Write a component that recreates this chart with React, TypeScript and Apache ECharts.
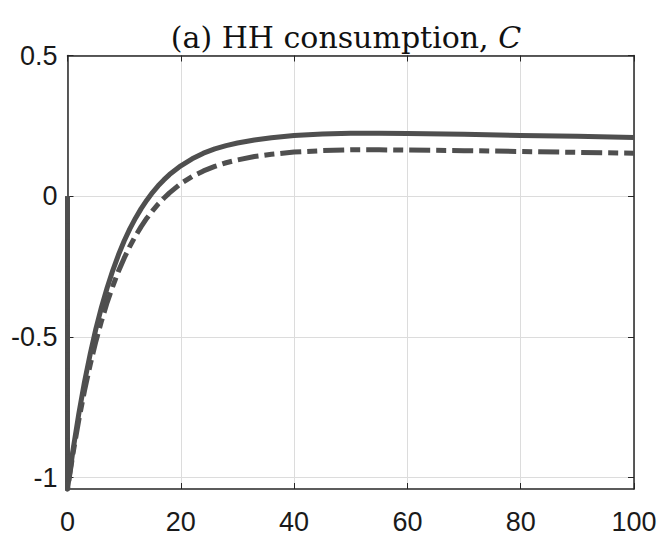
import React, { useEffect, useRef } from "react";
import * as echarts from "echarts";

// Horizon (periods); the first 0 is the pre-shock steady state
const periods = [0, 0, 1, 2, 3, 4, 5, 6, 7, 8, 9, 10, 11, 12, 13, 14, 15, 16, 17, 18, 20, 22, 24, 26, 28, 30, 33, 36, 40, 45, 50, 55, 60, 70, 80, 90, 100];

// Solid line
const solidSeries = [0, -1.04, -0.898, -0.772, -0.66, -0.561, -0.472, -0.394, -0.325, -0.263, -0.208, -0.159, -0.116, -0.078, -0.044, -0.014, 0.013, 0.037, 0.058, 0.077, 0.108, 0.133, 0.153, 0.168, 0.18, 0.189, 0.2, 0.208, 0.216, 0.221, 0.224, 0.224, 0.223, 0.22, 0.216, 0.213, 0.209];

// Dash-dot line
const dashSeries = [0, -1.04, -0.91, -0.794, -0.691, -0.599, -0.516, -0.443, -0.377, -0.319, -0.266, -0.22, -0.178, -0.141, -0.108, -0.078, -0.052, -0.028, -0.007, 0.012, 0.045, 0.07, 0.09, 0.106, 0.119, 0.129, 0.141, 0.149, 0.157, 0.162, 0.165, 0.165, 0.164, 0.162, 0.159, 0.156, 0.153];

const yTicks = [-1, -0.5, 0, 0.5];
const xTicks = [0, 20, 40, 60, 80, 100];

const titleMain = "(a) HH consumption, ";
const titleVar = "C";

export default function App() {
  const ref = useRef<HTMLDivElement>(null);

  useEffect(() => {
    if (!ref.current) return;
    const chart = echarts.init(ref.current, null, { renderer: "svg" });
    const lineColor = "#4f4f4f";
    const axisColor = "#262626";
    const gridColor = "#dcdcdc";
    const labelFont = { fontFamily: "Liberation Sans", fontSize: 27, color: "#1a1a1a" };

    const toPairs = (ys: number[]) => periods.map((p, i) => [p, ys[i]]);

    chart.setOption({
      animation: false,
      backgroundColor: "#ffffff",
      grid: { left: 67.5, top: 55.5, right: 29, bottom: 50, containLabel: false },
      xAxis: [
        {
          type: "value",
          min: 0,
          max: 100,
          interval: 20,
          position: "bottom",
          axisLine: { show: true, onZero: false, lineStyle: { color: axisColor, width: 1.5 } },
          axisTick: { show: true, inside: true, length: 6, lineStyle: { color: axisColor, width: 1 } },
          axisLabel: { show: true, margin: 19, ...labelFont, customValues: xTicks },
          splitLine: { show: true, lineStyle: { color: gridColor, width: 1 } },
        },
        {
          type: "value",
          min: 0,
          max: 100,
          interval: 20,
          position: "top",
          axisLine: { show: true, onZero: false, lineStyle: { color: axisColor, width: 1.5 } },
          axisTick: { show: true, inside: true, length: 6, lineStyle: { color: axisColor, width: 1 } },
          axisLabel: { show: false },
          splitLine: { show: false },
        },
      ],
      yAxis: [
        {
          type: "value",
          min: -1.04,
          max: 0.5,
          position: "left",
          axisLine: { show: true, onZero: false, lineStyle: { color: axisColor, width: 1.5 } },
          axisTick: { show: true, inside: true, length: 6, customValues: yTicks, lineStyle: { color: axisColor, width: 1 } },
          axisLabel: { show: true, margin: 10, ...labelFont, customValues: yTicks },
          splitLine: { show: true, lineStyle: { color: gridColor, width: 1 } },
        },
        {
          type: "value",
          min: -1.04,
          max: 0.5,
          position: "right",
          axisLine: { show: true, onZero: false, lineStyle: { color: axisColor, width: 1.5 } },
          axisTick: { show: true, inside: true, length: 6, customValues: yTicks, lineStyle: { color: axisColor, width: 1 } },
          axisLabel: { show: false },
          splitLine: { show: false },
        },
      ],
      series: [
        {
          type: "line",
          data: toPairs(solidSeries),
          showSymbol: false,
          clip: false,
          z: 3,
          lineStyle: { color: lineColor, width: 5, cap: "butt", join: "round" },
        },
        {
          type: "line",
          data: toPairs(dashSeries),
          showSymbol: false,
          clip: false,
          z: 3,
          lineStyle: { color: lineColor, width: 5, type: [21, 6, 10, 6], cap: "butt", join: "round" },
        },
      ],
      graphic: [
        {
          type: "text",
          x: 346,
          y: 37,
          style: {
            text: `{n|${titleMain}}{i|${titleVar}}`,
            align: "center",
            verticalAlign: "middle",
            rich: {
              n: { fontFamily: "DejaVu Serif", fontSize: 30, fill: "#111111" },
              i: { fontFamily: "DejaVu Serif", fontStyle: "italic", fontSize: 30, fill: "#111111" },
            },
          },
        },
      ],
    });

    return () => chart.dispose();
  }, []);

  return (
    <div
      ref={ref}
      style={{ position: "fixed", left: 0, top: 0, width: 663, height: 539, background: "#fff" }}
    />
  );
}
